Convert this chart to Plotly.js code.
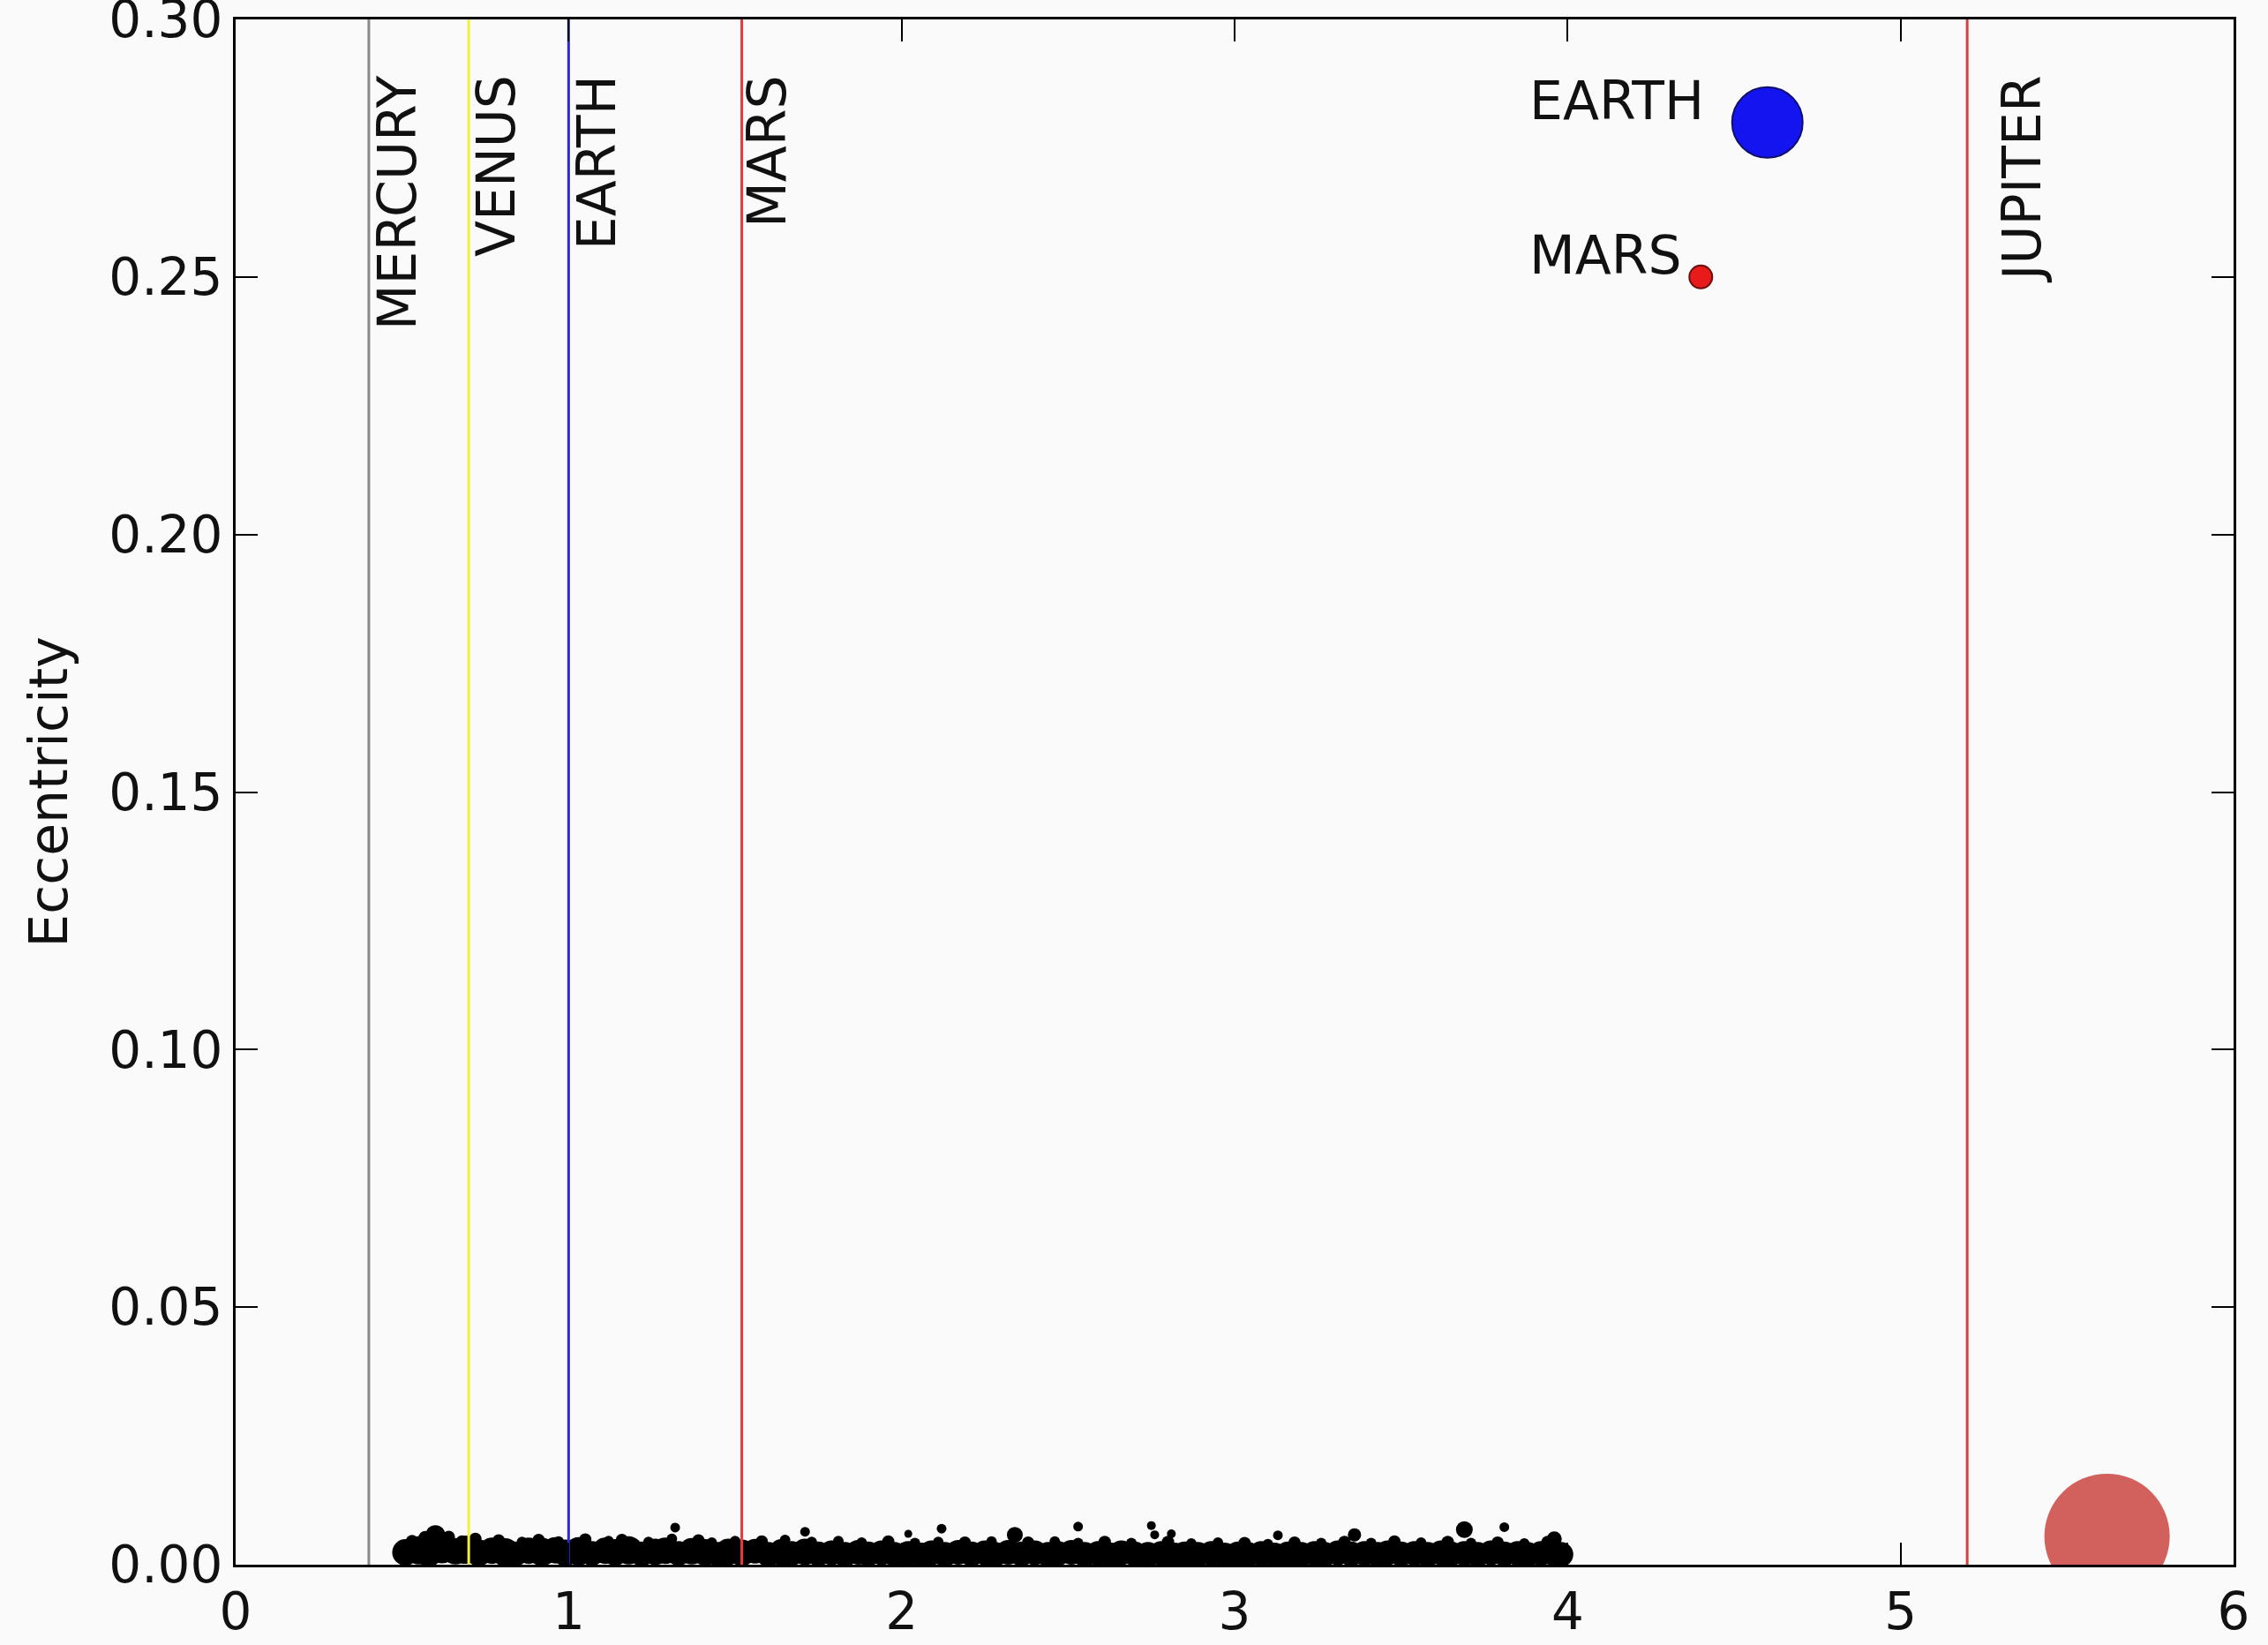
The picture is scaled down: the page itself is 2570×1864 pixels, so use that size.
<!DOCTYPE html>
<html>
<head>
<meta charset="utf-8">
<script src="https://cdn.plot.ly/plotly-3.0.1.min.js"></script>
<style>html,body{margin:0;padding:0;background:#fafafa;}#plot{width:2570px;height:1864px;}</style>
</head>
<body>
<div id="plot"></div>
<script>
// Planet reference lines (semi-major axis, AU)
const planetNames = ['MERCURY', 'VENUS', 'EARTH', 'MARS', 'JUPITER'];
const planetA = [0.40, 0.70, 1.00, 1.52, 5.20];
const planetLabelA = [0.42, 0.72, 1.02, 1.53, 5.30];

// Highlighted bodies: semi-major axis, eccentricity
const bodyNames = ['EARTH', 'MARS', 'JUPITER'];
const bodyA = [4.60, 4.40, 5.62];
const bodyE = [0.280, 0.250, 0.0055];
const bodyLabelA = [3.88, 3.88];

// Axis ticks
const xTicks = [0, 1, 2, 3, 4, 5, 6];
const yTicks = [0.00, 0.05, 0.10, 0.15, 0.20, 0.25, 0.30];
const yTickText = ['0.00', '0.05', '0.10', '0.15', '0.20', '0.25', '0.30'];

// Asteroid belt points: semi-major axis, eccentricity, relative size
const astA = [
 0.51,0.55,0.58,0.62,0.66,0.69,0.73,0.77,0.81,0.84,0.88,0.92,0.96,0.99,1.03,1.07,1.11,1.14,1.18,1.22,
 1.26,1.29,1.33,1.37,1.41,1.45,1.48,1.52,1.56,1.60,1.64,1.67,1.71,1.75,1.79,1.83,1.87,1.90,1.94,1.98,
 2.02,2.06,2.09,2.13,2.17,2.21,2.25,2.28,2.32,2.36,2.40,2.44,2.47,2.51,2.55,2.59,2.63,2.66,2.70,2.74,
 2.78,2.82,2.85,2.89,2.93,2.97,3.01,3.04,3.08,3.12,3.16,3.20,3.24,3.27,3.31,3.35,3.39,3.43,3.46,3.50,
 3.54,3.58,3.62,3.65,3.69,3.73,3.77,3.81,3.85,3.88,3.92,3.96,3.98,
 0.53,0.57,0.61,0.64,0.68,0.72,0.79,0.86,0.91,0.97,1.05,1.12,1.16,1.24,1.31,1.39,1.43,1.50,1.58,1.65,
 1.73,1.81,1.88,1.96,2.04,2.11,2.19,2.27,2.38,2.46,2.53,2.61,2.69,2.80,2.87,2.95,3.03,3.10,3.18,3.26,
 3.33,3.41,3.48,3.56,3.64,3.71,3.79,3.87,3.94,
 0.60,1.32,1.71,2.02,2.12,2.34,2.53,2.75,2.76,2.81,3.13,3.36,3.69,3.81,3.96
];
const astE = [
 0.0024,0.0028,0.0022,0.0030,0.0026,0.0029,0.0023,0.0027,0.0024,0.0021,0.0027,0.0025,0.0028,0.0023,0.0026,0.0022,0.0027,0.0024,0.0028,0.0021,
 0.0025,0.0027,0.0022,0.0026,0.0024,0.0020,0.0025,0.0023,0.0026,0.0020,0.0024,0.0022,0.0025,0.0021,0.0023,0.0020,0.0024,0.0021,0.0023,0.0020,
 0.0022,0.0019,0.0023,0.0020,0.0024,0.0021,0.0023,0.0020,0.0024,0.0021,0.0023,0.0020,0.0022,0.0024,0.0020,0.0022,0.0019,0.0023,0.0021,0.0020,
 0.0022,0.0019,0.0021,0.0020,0.0022,0.0019,0.0021,0.0020,0.0022,0.0019,0.0021,0.0020,0.0022,0.0020,0.0023,0.0021,0.0022,0.0020,0.0023,0.0021,
 0.0022,0.0020,0.0023,0.0021,0.0022,0.0020,0.0023,0.0021,0.0022,0.0020,0.0022,0.0021,0.0020,
 0.0046,0.0052,0.0048,0.0054,0.0045,0.0050,0.0047,0.0044,0.0048,0.0045,0.0049,0.0046,0.0048,0.0044,0.0050,0.0047,0.0043,0.0046,0.0045,0.0048,
 0.0044,0.0046,0.0043,0.0045,0.0042,0.0044,0.0043,0.0045,0.0043,0.0045,0.0042,0.0044,0.0042,0.0044,0.0041,0.0043,0.0042,0.0040,0.0043,0.0042,
 0.0044,0.0042,0.0045,0.0043,0.0044,0.0042,0.0043,0.0041,0.0044,
 0.0058,0.0072,0.0064,0.0060,0.0070,0.0058,0.0074,0.0076,0.0058,0.0060,0.0057,0.0058,0.0068,0.0073,0.0050
];
const astSize = [
 30,32,30,32,30,32,30,30,32,28,30,32,30,30,32,28,30,30,32,28,
 30,30,28,30,30,28,30,30,28,28,30,28,30,28,28,28,28,28,28,28,
 28,28,28,28,28,28,28,28,28,28,28,28,28,28,28,28,28,28,28,28,
 28,28,28,28,28,28,28,28,28,28,28,28,28,28,28,28,28,28,28,28,
 28,28,28,28,28,28,28,28,28,28,28,28,28,
 14,16,18,14,14,14,14,12,14,12,14,12,14,12,12,14,12,12,14,12,
 12,12,12,14,12,12,14,12,14,12,12,14,12,14,12,12,14,12,14,12,
 14,12,14,12,14,12,14,12,14,
 22,11,11,9,11,18,11,10,10,10,11,15,19,11,17
];

const FONT = 'DejaVu Sans';
const INK = '#111111';
const lineColors = ['#8a8a8a', '#f2f03a', '#2a2ad0', '#e83a3a', '#d84040'];

const traces = [];
traces.push({
  type: 'scatter', mode: 'markers', x: astA, y: astE,
  marker: {color: '#000000', size: astSize, opacity: 1, line: {width: 0}},
  cliponaxis: true, hoverinfo: 'skip', showlegend: false
});
planetA.forEach((a, i) => {
  traces.push({
    type: 'scatter', mode: 'lines', x: [a, a], y: [0, 0.30],
    line: {color: lineColors[i], width: 3}, hoverinfo: 'skip', showlegend: false
  });
});
const bodyFill = ['#1414f0', '#e81a1a', '#d2605c'];
const bodySize = [80, 26, 142];
const bodyEdge = ['#10106a', '#6a1010', '#d2605c'];
bodyNames.forEach((n, i) => {
  traces.push({
    type: 'scatter', mode: 'markers', x: [bodyA[i]], y: [bodyE[i]],
    marker: {color: bodyFill[i], size: bodySize[i], opacity: 1, line: {color: bodyEdge[i], width: i < 2 ? 2 : 0}},
    cliponaxis: true, hoverinfo: 'skip', showlegend: false, name: n
  });
});

const annotations = [];
planetNames.forEach((n, i) => {
  annotations.push({
    x: planetLabelA[i], y: 0.2895, xref: 'x', yref: 'y', text: n, showarrow: false,
    textangle: -90, xanchor: 'left', yanchor: 'top', xshift: -13,
    font: {family: FONT, size: 60, color: INK}
  });
});
bodyLabelA.forEach((a, i) => {
  annotations.push({
    x: a, y: bodyE[i], xref: 'x', yref: 'y', text: bodyNames[i], showarrow: false,
    xanchor: 'left', yanchor: 'bottom', yshift: -12,
    font: {family: FONT, size: 60, color: INK}
  });
});

const axisCommon = {
  showline: true, linecolor: '#000000', linewidth: 3, mirror: 'ticks',
  ticks: 'inside', ticklen: 25, tickwidth: 2, tickcolor: '#000000',
  showgrid: false, zeroline: false, ticklabeloverflow: 'allow',
  tickfont: {family: FONT, size: 58, color: INK}
};

const layout = {
  width: 2570, height: 1864,
  margin: {l: 267, r: 39, t: 22, b: 91},
  paper_bgcolor: '#fafafa', plot_bgcolor: '#fafafa',
  showlegend: false,
  xaxis: Object.assign({}, axisCommon, {range: [0, 6], tickmode: 'array', tickvals: xTicks, ticktext: xTicks.map(String)}),
  yaxis: Object.assign({}, axisCommon, {
    range: [0, 0.30], tickmode: 'array', tickvals: yTicks, ticktext: yTickText,
    title: {text: 'Eccentricity', font: {family: FONT, size: 60, color: INK}, standoff: 28}
  }),
  annotations: annotations
};

Plotly.newPlot('plot', traces, layout, {staticPlot: true, displayModeBar: false});
</script>
</body>
</html>
